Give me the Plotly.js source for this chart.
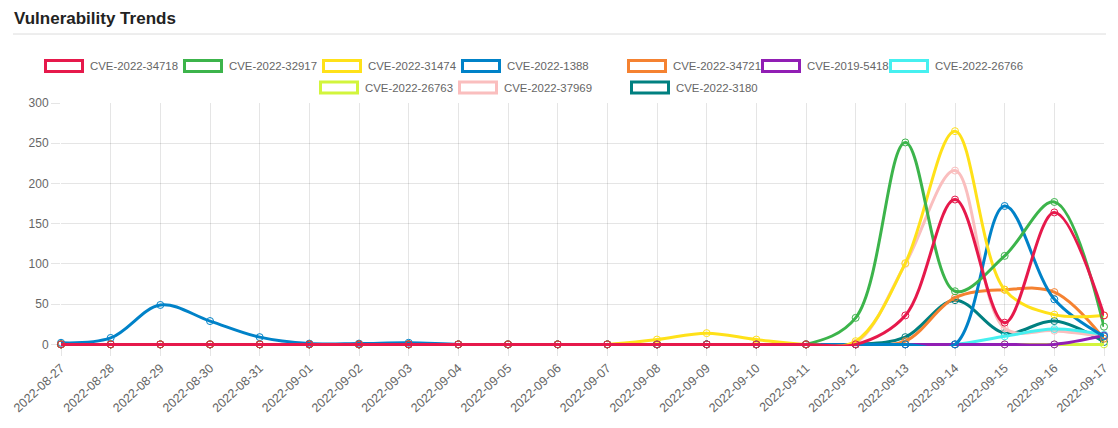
<!DOCTYPE html>
<html>
<head>
<meta charset="utf-8">
<script src="https://cdn.plot.ly/plotly-3.0.1.min.js"></script>
<style>
html,body{margin:0;padding:0;background:#fff;}
#chart{width:1118px;height:428px;}
</style>
</head>
<body>
<div id="chart"></div>
<script>
// ---- data ----
const dates = ["2022-08-27","2022-08-28","2022-08-29","2022-08-30","2022-08-31","2022-09-01","2022-09-02","2022-09-03","2022-09-04","2022-09-05","2022-09-06","2022-09-07","2022-09-08","2022-09-09","2022-09-10","2022-09-11","2022-09-12","2022-09-13","2022-09-14","2022-09-15","2022-09-16","2022-09-17"];
const seriesNames = ["CVE-2022-34718","CVE-2022-32917","CVE-2022-31474","CVE-2022-1388","CVE-2022-34721","CVE-2019-5418","CVE-2022-26766","CVE-2022-26763","CVE-2022-37969","CVE-2022-3180"];
const seriesColors = ["#e6194b","#3cb44b","#ffe119","#0082c8","#f58231","#911eb4","#46f0f0","#d2f53c","#fabebe","#008080"];
const cve_2022_34718 = [0,0,0,0,0,0,0,0,0,0,0,0,0,0,0,0,0,36,180,27,164,36];
const cve_2022_32917 = [0,0,0,0,0,0,0,0,0,0,0,0,0,0,0,0,33,251,66,110,177,22];
const cve_2022_31474 = [0,0,0,0,0,0,0,0,0,0,0,0,6,14,6,0,4,101,265,68,37,36];
const cve_2022_1388  = [2,8,49,29,9,1,1,2,0,0,0,0,0,0,0,0,0,0,0,172,56,10];
const cve_2022_34721 = [0,0,0,0,0,0,0,0,0,0,0,0,0,0,0,0,0,4,58,68,65,7];
const cve_2019_5418  = [0,0,0,0,0,0,0,0,0,0,0,0,0,0,0,0,0,0,0,0,0,11];
const cve_2022_26766 = [0,0,0,0,0,0,0,0,0,0,0,0,0,0,0,0,0,0,0,10,19,12];
const cve_2022_26763 = [0,0,0,0,0,0,0,0,0,0,0,0,0,0,0,0,0,0,0,0,0,0];
const cve_2022_37969 = [0,0,0,0,0,0,0,0,0,0,0,0,0,0,0,0,2,100,216,20,17,10];
const cve_2022_3180  = [0,0,0,0,0,0,0,0,0,0,0,0,0,0,0,0,0,9,55,14,29,3];
const seriesValues = [cve_2022_34718,cve_2022_32917,cve_2022_31474,cve_2022_1388,cve_2022_34721,cve_2019_5418,cve_2022_26766,cve_2022_26763,cve_2022_37969,cve_2022_3180];

// ---- layout geometry ----
const W = 1118, H = 428;
const M = {l:61, r:14, t:103, b:82};
const PW = W - M.l - M.r, PH = H - M.t - M.b;
const px2x = px => (px - M.l) / PW;
const py2y = py => (H - M.b - py) / PH;

// legend layout (two centered rows, as in reference)
const legendRows = [[0,1,2,3,4,5,6],[7,8,9]];
const legendBoxLeft = [44,183,322,461,627,761,889,319,458,630];
const legendRowY = [66,87.5];

const traces = [];
for (let i = seriesNames.length - 1; i >= 0; i--) {
  traces.push({
    type: 'scatter', mode: 'lines+markers',
    x: dates, y: seriesValues[i], name: seriesNames[i],
    line: {color: seriesColors[i], width: 3, shape: 'spline', smoothing: 1},
    marker: {symbol: 'circle-open', size: 7, color: seriesColors[i], line: {width: 1}},
    cliponaxis: false, showlegend: false, hoverinfo: 'skip'
  });
}

const shapes = [{type:'line', xref:'paper', yref:'paper', x0:px2x(13), x1:px2x(1106), y0:py2y(34), y1:py2y(34), line:{color:'#dcdcdc', width:1}}];
const annotations = [];
legendRows.forEach((row, r) => {
  row.forEach(i => {
    const x0 = legendBoxLeft[i];
    const yc = legendRowY[r];
    shapes.push({type:'rect', xref:'paper', yref:'paper', x0:px2x(x0+1.5), x1:px2x(x0+38.5), y0:py2y(yc-5.5), y1:py2y(yc+5.5), line:{color:seriesColors[i], width:3}, fillcolor:'rgba(255,255,255,0)'});
    annotations.push({xref:'paper', yref:'paper', x:px2x(x0+44), y:py2y(yc), xanchor:'left', yanchor:'middle', showarrow:false, text:seriesNames[i], font:{family:'"Liberation Sans", Arial, sans-serif', size:11.4, color:'#666'}});
  });
});

const layout = {
  width: W, height: H,
  margin: M,
  paper_bgcolor: '#fff', plot_bgcolor: '#fff',
  showlegend: false,
  title: {text: '<b>Vulnerability Trends</b>', xref:'container', yref:'container', x: 14/W, xanchor:'left', y: 1 - 18/H, yanchor:'middle', font:{family:'"Liberation Sans", Arial, sans-serif', size:17, color:'#222'}},
  xaxis: {
    type: 'category', categoryorder: 'array', categoryarray: dates, range: [0, 21],
    showgrid: true, gridcolor: 'rgba(0,0,0,0.1)', gridwidth: 1,
    ticks: 'outside', ticklen: 9, tickcolor: 'rgba(0,0,0,0.1)',
    tickangle: -43, tickfont: {family:'"Liberation Sans", Arial, sans-serif', size:12.5, color:'#666'},
    showline: false, zeroline: false, fixedrange: true
  },
  yaxis: {
    range: [-2, 300], tick0: 0, dtick: 50,
    showgrid: true, gridcolor: 'rgba(0,0,0,0.1)', gridwidth: 1,
    zeroline: true, zerolinecolor: 'rgba(0,0,0,0.25)', zerolinewidth: 1,
    ticks: 'outside', ticklen: 9, tickcolor: 'rgba(0,0,0,0.1)',
    tickfont: {family:'"Liberation Sans", Arial, sans-serif', size:12, color:'#666'},
    showline: false, fixedrange: true
  },
  shapes: shapes,
  annotations: annotations,
  hovermode: false
};

Plotly.newPlot('chart', traces, layout, {displayModeBar: false, staticPlot: true});
</script>
</body>
</html>
